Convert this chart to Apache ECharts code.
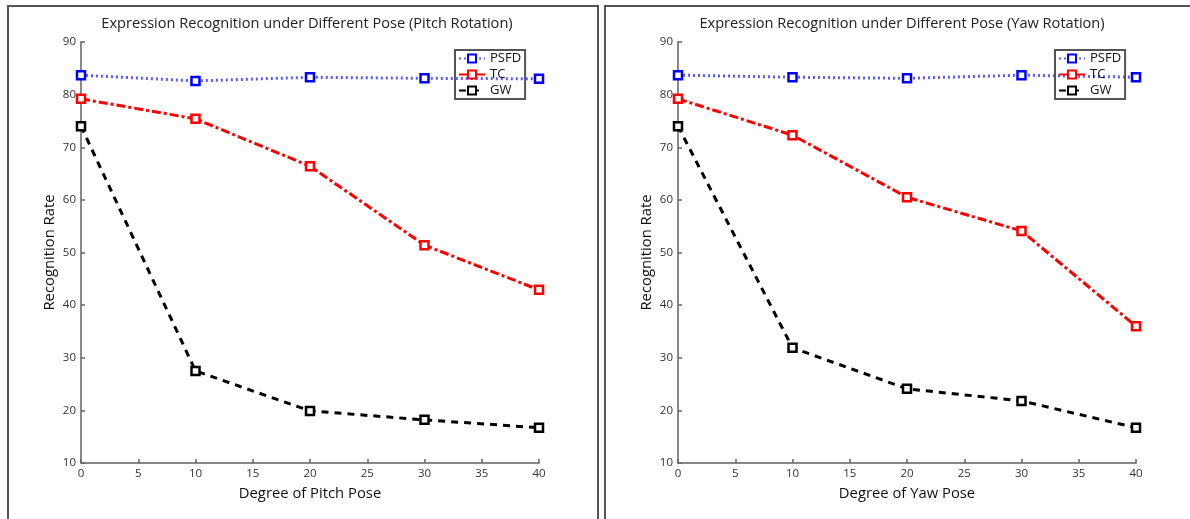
<!DOCTYPE html>
<html>
<head>
<meta charset="utf-8">
<script src="https://cdn.jsdelivr.net/npm/echarts@6/dist/echarts.min.js"></script>
<style>html,body{margin:0;padding:0;background:#fff}#c{width:1190px;height:519px}</style>
</head>
<body>
<div id="c"></div>
<script>
const degrees = [0, 10, 20, 30, 40];
const pitchPSFD = [83.7, 82.6, 83.3, 83.1, 83.0];
const pitchTC = [79.2, 75.4, 66.4, 51.4, 42.9];
const pitchGW = [74.0, 27.5, 19.9, 18.2, 16.7];
const yawPSFD = [83.7, 83.3, 83.1, 83.7, 83.3];
const yawTC = [79.2, 72.3, 60.5, 54.1, 36.0];
const yawGW = [74.0, 31.9, 24.1, 21.8, 16.7];
const titles = ['Expression Recognition under Different Pose (Pitch Rotation)', 'Expression Recognition under Different Pose (Yaw Rotation)'];
const xNames = ['Degree of Pitch Pose', 'Degree of Yaw Pose'];
const yName = 'Recognition Rate';

const font = 'Open Sans, Liberation Sans, sans-serif';
const pair = (xs, ys) => xs.map((x, i) => [x, ys[i]]);

function mk(name, data, color, dash, idx, lineColor) {
  return {
    name, type: 'line', xAxisIndex: idx, yAxisIndex: idx,
    data, symbol: 'rect', symbolSize: 8,
    itemStyle: { color: '#fff', borderColor: color, borderWidth: 2.5 },
    lineStyle: { color: lineColor || color, width: 3, type: dash },
    emphasis: { disabled: true }, animation: false
  };
}

const axisCommon = {
  axisLine: { show: true, lineStyle: { color: '#888', width: 2 } },
  axisTick: { show: true, inside: true, length: 4, lineStyle: { color: '#666', width: 1.5 } },
  splitLine: { show: false },
  axisLabel: { color: '#333', fontSize: 11.5, fontFamily: font },
  nameTextStyle: { color: '#111', fontSize: 14.8, fontFamily: font }
};

const grids = [
  { left: 81, top: 42, width: 458, height: 421 },
  { left: 678, top: 42, width: 458, height: 421 }
];

const xAxes = [0, 1].map(i => Object.assign({}, axisCommon, {
  gridIndex: i, type: 'value', min: 0, max: 40, interval: 5,
  name: xNames[i], nameLocation: 'middle', nameGap: 23,
  axisLabel: Object.assign({}, axisCommon.axisLabel, { margin: 5 })
}));
const yAxes = [0, 1].map(i => Object.assign({}, axisCommon, {
  gridIndex: i, type: 'value', min: 10, max: 90, interval: 10,
  name: yName, nameLocation: 'middle', nameGap: 24,
  axisLabel: Object.assign({}, axisCommon.axisLabel, { margin: 5 })
}));

const legendBase = {
  orient: 'vertical', top: 50, itemWidth: 26, itemHeight: 10, itemGap: 3,
  borderColor: '#555', borderWidth: 2, padding: [2, 4, 2, 3],
  textStyle: { color: '#111', fontSize: 13, fontFamily: font },
  data: ['PSFD', 'TC', 'GW']
};

const titleStyle = { color: '#222', fontSize: 14.6, fontWeight: 'normal', fontFamily: font };

const option = {
  backgroundColor: '#fff',
  title: [
    { text: titles[0], left: 302, top: 11, textAlign: 'center', textStyle: titleStyle },
    { text: titles[1], left: 897, top: 11, textAlign: 'center', textStyle: titleStyle }
  ],
  grid: grids,
  xAxis: xAxes,
  yAxis: yAxes,
  legend: [
    Object.assign({}, legendBase, { left: 455 }),
    Object.assign({}, legendBase, { left: 1055 })
  ],
  graphic: [
    { type: 'rect', shape: { x: 8, y: 6, width: 590, height: 530 }, style: { fill: 'none', stroke: '#555', lineWidth: 2 }, silent: true },
    { type: 'rect', shape: { x: 605, y: 6, width: 600, height: 530 }, style: { fill: 'none', stroke: '#555', lineWidth: 2 }, silent: true }
  ],
  series: [
    mk('PSFD', pair(degrees, pitchPSFD), '#0000ff', [2, 3], 0, '#5a5aff'),
    mk('TC', pair(degrees, pitchTC), '#ff0000', [9, 3, 3, 3], 0),
    mk('GW', pair(degrees, pitchGW), '#000000', [7, 6], 0),
    mk('PSFD', pair(degrees, yawPSFD), '#0000ff', [2, 3], 1, '#5a5aff'),
    mk('TC', pair(degrees, yawTC), '#ff0000', [9, 3, 3, 3], 1),
    mk('GW', pair(degrees, yawGW), '#000000', [7, 6], 1)
  ]
};
const chart = echarts.init(document.getElementById('c'), null, { renderer: 'canvas' });
chart.setOption(option);
</script>
</body>
</html>
